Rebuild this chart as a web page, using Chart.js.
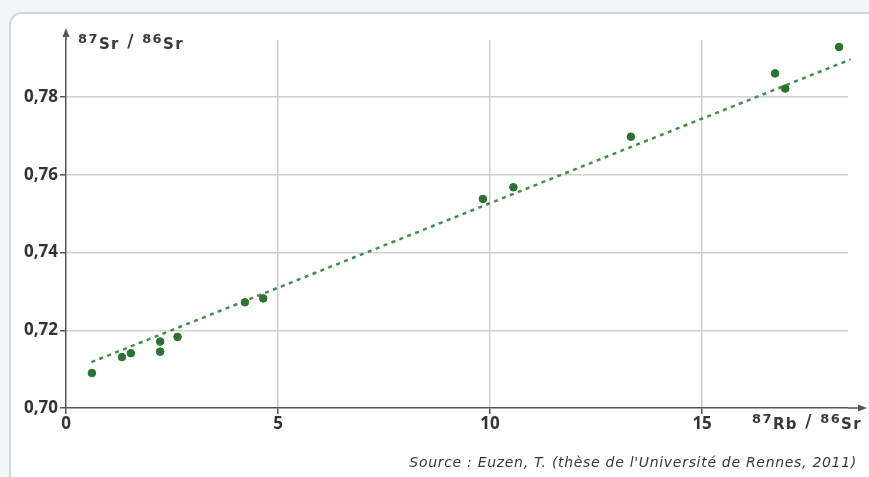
<!DOCTYPE html>
<html>
<head>
<meta charset="utf-8">
<script src="https://cdn.jsdelivr.net/npm/chart.js@4"></script>
<style>
  html, body { margin: 0; padding: 0; background: #f3f6f6; }
  #wrap { width: 869px; height: 477px; position: relative; }
</style>
</head>
<body>
<div id="wrap"><canvas id="isoChart" width="869" height="477"></canvas></div>
<script>
// Mesures 87Rb/86Sr (x) et 87Sr/86Sr (y)
let rbSr = [0.61, 1.32, 1.53, 2.22, 2.22, 2.63, 4.22, 4.65, 9.83, 10.55, 13.32, 16.72, 16.96, 18.23];
let srSr = [0.7090, 0.7131, 0.7141, 0.7145, 0.7171, 0.7183, 0.7272, 0.7282, 0.7538, 0.7568, 0.7698, 0.7861, 0.7822, 0.7929];
// Droite isochrone (début et fin)
let lineX = [0.6, 18.5];
let lineY = [0.7118, 0.7897];
let yTicks = [0.70, 0.72, 0.74, 0.76, 0.78];
let xTicks = [0, 5, 10, 15];

let green = '#2d7233';
let axisColor = '#555555';
let fontFam = '"Open Sans", "Liberation Sans", sans-serif';
let labelFam = '"DejaVu Sans", sans-serif';

// Cadre arrondi, flèches, titres des axes et source
let decor = {
  id: 'decor',
  beforeDraw(chart) {
    let c = chart.ctx;
    c.save();
    c.fillStyle = '#ffffff';
    c.strokeStyle = '#c9d9d9';
    c.lineWidth = 2;
    c.beginPath();
    c.roundRect(10, 13, 880, 480, 12);
    c.fill();
    c.stroke();
    c.restore();
  },
  afterDraw(chart) {
    let c = chart.ctx, a = chart.chartArea;
    let x0 = chart.scales.x.getPixelForValue(0);
    let y0 = chart.scales.y.getPixelForValue(0.70);
    let topY = 30, rightX = 865;
    c.save();
    c.strokeStyle = axisColor;
    c.fillStyle = axisColor;
    c.lineWidth = 1.5;
    // prolongement des axes
    c.beginPath();
    c.moveTo(x0, a.top); c.lineTo(x0, topY + 4);
    c.moveTo(a.right, y0); c.lineTo(rightX - 4, y0);
    c.stroke();
    // flèche verticale
    c.beginPath();
    c.moveTo(x0, topY - 2); c.lineTo(x0 - 3.5, topY + 7); c.lineTo(x0 + 3.5, topY + 7); c.closePath();
    c.fill();
    // flèche horizontale
    c.beginPath();
    c.moveTo(rightX + 2, y0); c.lineTo(rightX - 7, y0 - 3.5); c.lineTo(rightX - 7, y0 + 3.5); c.closePath();
    c.fill();

    function iso(parts, x, y) {
      c.textBaseline = 'alphabetic';
      c.textAlign = 'left';
      c.letterSpacing = '1.4px';
      parts.forEach(p => {
        c.font = 'bold ' + p[1] + 'px ' + labelFam;
        c.fillText(p[0], x, y + p[2]);
        x += c.measureText(p[0]).width;
      });
    }
    c.fillStyle = '#3a3a3a';
    iso([['87', 13, -4], ['Sr', 15, 2], [' / ', 17, 0], ['86', 13, -4], ['Sr', 15, 2]], 78, 47);
    iso([['87', 13, -4], ['Rb', 15, 2], [' / ', 17, 0], ['86', 13, -4], ['Sr', 15, 2]], 752, 427);

    c.letterSpacing = '0.7px';
    c.font = 'italic 14px ' + labelFam;
    c.fillStyle = '#383838';
    c.textAlign = 'right';
    c.fillText("Source : Euzen, T. (thèse de l'Université de Rennes, 2011)", 857, 467);
    c.restore();
  }
};

let config = {
  type: 'scatter',
  data: {
    datasets: [
      {
        label: 'Mesures',
        data: rbSr.map((x, i) => ({ x: x, y: srSr[i] })),
        backgroundColor: green,
        borderColor: green,
        pointRadius: 3.8,
        pointHoverRadius: 3.8,
        clip: false,
        order: 1
      },
      {
        label: 'Isochrone',
        type: 'line',
        data: lineX.map((x, i) => ({ x: x, y: lineY[i] })),
        borderColor: '#3f8f45',
        borderWidth: 2.5,
        borderDash: [4, 4.5],
        pointRadius: 0,
        fill: false,
        clip: false,
        order: 2
      }
    ]
  },
  options: {
    responsive: false,
    animation: false,
    layout: { padding: { top: 40, right: 21, left: 0, bottom: 0 } },
    plugins: { legend: { display: false }, tooltip: { enabled: false } },
    scales: {
      x: {
        type: 'linear',
        min: 0,
        max: 18.44,
        afterFit(s) { s.height = 69; },
        afterBuildTicks(s) { s.ticks = xTicks.map(v => ({ value: v })); },
        grid: {
          color: ctx => ctx.tick && ctx.tick.value === 0 ? 'rgba(0,0,0,0)' : '#cfcfcf',
          lineWidth: 1.5,
          drawTicks: true,
          tickLength: 6,
          tickColor: axisColor
        },
        border: { color: axisColor, width: 1.5 },
        ticks: {
          color: '#333333',
          font: { family: fontFam, size: 17, weight: 'bold' },
          padding: 0,
          maxRotation: 0,
          callback: v => String(v)
        }
      },
      y: {
        type: 'linear',
        min: 0.70,
        max: 0.7947,
        afterFit(s) { s.width = 66; },
        afterBuildTicks(s) { s.ticks = yTicks.map(v => ({ value: v })); },
        grid: {
          color: ctx => ctx.tick && ctx.tick.value === 0.70 ? 'rgba(0,0,0,0)' : '#cfcfcf',
          lineWidth: 1.5,
          drawTicks: true,
          tickLength: 6,
          tickColor: axisColor
        },
        border: { color: axisColor, width: 1.5 },
        ticks: {
          color: '#333333',
          font: { family: fontFam, size: 17, weight: 'bold' },
          padding: 2,
          callback: v => v.toFixed(2).replace('.', ',')
        }
      }
    }
  },
  plugins: [decor]
};

let ctx = document.getElementById('isoChart').getContext('2d');
let isoChart = new Chart(ctx, config);
</script>
</body>
</html>
